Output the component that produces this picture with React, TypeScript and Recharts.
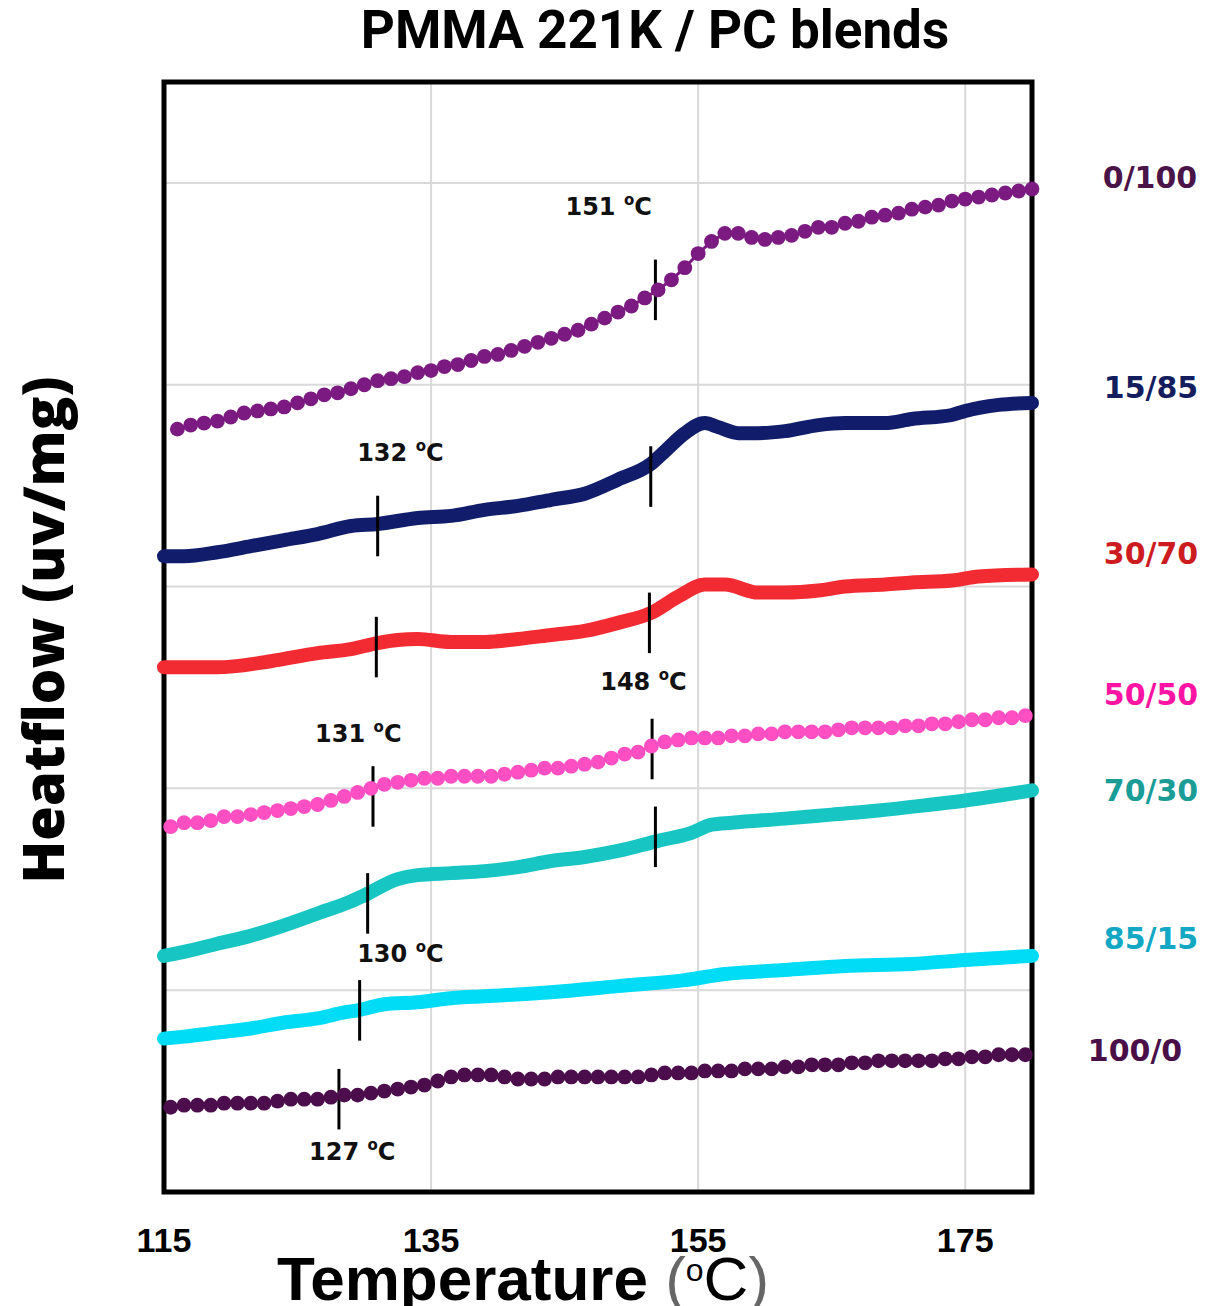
import React from "react";
import { ComposedChart, Line, XAxis, YAxis, CartesianGrid, ReferenceArea, ReferenceLine, ReferenceDot } from "recharts";

// temperature grids of the dotted scans, one reading per degree
const degreeGrid = (start: number, count: number) => Array.from({ length: count }, (_, i) => start + i);
const wholeDegrees = degreeGrid(116, 65);
const halfDegrees = degreeGrid(115.5, 65);

const xTicks = [115, 135, 155, 175];
const yGrid = [1, 2, 3, 4, 5];

// 0/100 (pure PC)
const flow0_100 = [
  3.78, 3.80, 3.81, 3.82, 3.84, 3.86, 3.87, 3.88, 3.89, 3.91,
  3.93, 3.95, 3.96, 3.98, 4.00, 4.02, 4.03, 4.04, 4.06, 4.07,
  4.09, 4.10, 4.12, 4.14, 4.15, 4.17, 4.19, 4.21, 4.23, 4.25,
  4.27, 4.30, 4.33, 4.36, 4.39, 4.43, 4.47, 4.52, 4.58, 4.65,
  4.71, 4.75, 4.75, 4.73, 4.72, 4.73, 4.74, 4.76, 4.78, 4.78,
  4.80, 4.81, 4.83, 4.84, 4.85, 4.87, 4.88, 4.89, 4.91, 4.92,
  4.93, 4.94, 4.95, 4.96, 4.97,
];

// 50/50
const flow50_50 = [
  1.81, 1.83, 1.83, 1.84, 1.86, 1.86, 1.87, 1.88, 1.89, 1.90,
  1.91, 1.92, 1.94, 1.96, 1.98, 2.00, 2.02, 2.03, 2.04, 2.05,
  2.05, 2.06, 2.06, 2.06, 2.06, 2.07, 2.08, 2.09, 2.10, 2.10,
  2.11, 2.12, 2.13, 2.15, 2.17, 2.18, 2.21, 2.23, 2.24, 2.25,
  2.25, 2.25, 2.26, 2.26, 2.27, 2.27, 2.28, 2.28, 2.28, 2.28,
  2.29, 2.30, 2.30, 2.30, 2.30, 2.31, 2.31, 2.32, 2.32, 2.33,
  2.34, 2.34, 2.35, 2.35, 2.36,
];

// 100/0 (pure PMMA)
const flow100_0 = [
  0.42, 0.43, 0.43, 0.43, 0.44, 0.44, 0.44, 0.44, 0.45, 0.46,
  0.46, 0.46, 0.47, 0.48, 0.48, 0.49, 0.50, 0.51, 0.52, 0.53,
  0.55, 0.57, 0.58, 0.58, 0.58, 0.57, 0.56, 0.56, 0.56, 0.57,
  0.57, 0.57, 0.57, 0.57, 0.57, 0.57, 0.58, 0.59, 0.59, 0.59,
  0.60, 0.60, 0.60, 0.61, 0.61, 0.61, 0.62, 0.62, 0.63, 0.63,
  0.63, 0.64, 0.64, 0.65, 0.65, 0.65, 0.65, 0.65, 0.66, 0.66,
  0.67, 0.67, 0.68, 0.68, 0.68,
];

// dense scans
const temps15_85 = [115, 116.5, 119, 121.5, 124, 126.5, 129, 131, 134, 136.5, 139, 141.5, 144, 146.5, 149, 151.5, 152.5, 154, 155.5, 156.5, 158, 159.5, 161.5, 164, 166, 169, 171, 174, 175, 177.5, 180];
const flow15_85 = [3.15, 3.15, 3.17, 3.20, 3.23, 3.26, 3.30, 3.31, 3.34, 3.35, 3.38, 3.40, 3.43, 3.46, 3.53, 3.61, 3.67, 3.76, 3.81, 3.79, 3.76, 3.76, 3.77, 3.80, 3.81, 3.81, 3.83, 3.85, 3.87, 3.90, 3.91];

const temps30_70 = [115, 119, 123, 126.5, 129, 131, 132.5, 134, 136.5, 139, 141.5, 144, 146.5, 149, 151.5, 153.5, 155.5, 157, 159.5, 161.5, 164, 166, 169, 171, 174, 176, 180];
const flow30_70 = [2.60, 2.60, 2.63, 2.67, 2.69, 2.72, 2.735, 2.74, 2.725, 2.725, 2.74, 2.76, 2.78, 2.82, 2.87, 2.95, 3.01, 3.01, 2.97, 2.97, 2.98, 3.00, 3.01, 3.02, 3.03, 3.05, 3.06];

const temps70_30 = [115, 116.5, 119, 121.5, 123.5, 126.5, 129, 130, 132.5, 134, 136.5, 139, 141.5, 144, 146.5, 149, 152, 154.5, 156, 157.5, 161.5, 165, 168.5, 172.5, 175, 180];
const flow70_30 = [1.17, 1.19, 1.23, 1.27, 1.31, 1.38, 1.44, 1.47, 1.55, 1.57, 1.58, 1.59, 1.61, 1.64, 1.66, 1.69, 1.74, 1.78, 1.82, 1.83, 1.85, 1.87, 1.89, 1.92, 1.94, 1.99];

const temps85_15 = [115, 116.5, 119, 121.5, 124, 126.5, 128.5, 129.5, 131.5, 134, 136.5, 139, 144, 149, 154, 157, 161.5, 166, 171, 175, 180];
const flow85_15 = [0.76, 0.77, 0.79, 0.81, 0.84, 0.86, 0.89, 0.90, 0.93, 0.94, 0.96, 0.97, 0.99, 1.02, 1.05, 1.08, 1.10, 1.12, 1.13, 1.15, 1.17];

// glass transition ticks drawn on the curves
const tgTemps = [151.8, 131.0, 151.45, 130.9, 151.35, 130.65, 151.55, 130.25, 151.8, 129.65, 128.1];
const tgFlows = [4.47, 3.30, 3.545, 2.70, 2.82, 1.96, 2.195, 1.43, 1.76, 0.90, 0.46];

// Tg annotations
const noteValues = ["151", "132", "148", "131", "130", "127"];
const noteTemps = [148.3, 132.7, 150.9, 129.55, 132.7, 129.1];
const noteFlows = [4.88, 3.66, 2.525, 2.27, 1.18, 0.2];

const blendNames = ["0/100", "15/85", "30/70", "50/50", "70/30", "85/15", "100/0"];
const lineColors = ["#7b1a80", "#111d6b", "#f22a31", "#ff4fc3", "#17c6c2", "#00dbf6", "#4b0d4b"];
const nameColors = ["#4b1449", "#141e5e", "#cc1c1f", "#ff14a4", "#1a9c97", "#12a8c3", "#4a0f48"];
const namePos = [
  [1150, 177], [1151, 387], [1151, 553], [1151, 694], [1151, 790], [1151, 938], [1135, 1050],
];

const toPoints = (temps: number[], flows: number[]) => temps.map((t, i) => ({ t, v: flows[i] }));

const dotted = [
  { name: "0/100", data: toPoints(wholeDegrees, flow0_100), color: lineColors[0] },
  { name: "50/50", data: toPoints(halfDegrees, flow50_50), color: lineColors[3] },
  { name: "100/0", data: toPoints(halfDegrees, flow100_0), color: lineColors[6] },
];

const dense = [
  { name: "15/85", data: toPoints(temps15_85, flow15_85), color: lineColors[1] },
  { name: "30/70", data: toPoints(temps30_70, flow30_70), color: lineColors[2] },
  { name: "70/30", data: toPoints(temps70_30, flow70_30), color: lineColors[4] },
  { name: "85/15", data: toPoints(temps85_15, flow85_15), color: lineColors[5] },
];

const TG_HALF = 0.15;
const DOT_R = 7.4;

function TempTick({ x, y, payload }: any) {
  return (
    <text x={x} y={y + 48} textAnchor="middle" dominantBaseline="central"
      fontFamily="'Liberation Sans', Arial, sans-serif" fontWeight={700} fontSize={34} fill="#000">
      {payload.value}
    </text>
  );
}

function bigDot(color: string) {
  return (p: any) => <circle key={p.key ?? `${p.cx}-${p.cy}`} cx={p.cx} cy={p.cy} r={DOT_R} fill={color} />;
}

function noteShape(value: string) {
  return (p: any) => (
    <text x={p.cx} y={p.cy} textAnchor="middle" dominantBaseline="central"
      fontFamily="'DejaVu Sans', sans-serif" fontWeight={700} fontSize={24} fill="#111">
      <tspan>{value} </tspan>
      <tspan fontSize={15} dy={-7}>o</tspan>
      <tspan dy={7}>C</tspan>
    </text>
  );
}

export default function App() {
  return (
    <div style={{ position: "absolute", left: 0, top: 0, width: 1222, height: 1306, background: "#fff" }}>
      <ComposedChart width={1222} height={1306} margin={{ top: 82, right: 190, bottom: 54, left: 164 }}>
        <CartesianGrid stroke="#d9d9d9" strokeWidth={2} />
        <XAxis dataKey="t" type="number" domain={[115, 180]} ticks={xTicks} height={60}
          axisLine={false} tickLine={false} tickSize={0} tickMargin={0} tick={<TempTick />} />
        <YAxis hide type="number" domain={[0, 5.5]} ticks={yGrid} />
        <ReferenceArea x1={115} x2={180} y1={0} y2={5.5} fill="none" fillOpacity={0} stroke="#000" strokeWidth={5} />
        {dense.map((s) => (
          <Line key={s.name} data={s.data} dataKey="v" name={s.name} type="monotone" stroke={s.color}
            strokeWidth={14} strokeLinecap="round" strokeLinejoin="round" dot={false} activeDot={false}
            isAnimationActive={false} />
        ))}
        {dotted.map((s) => (
          <Line key={s.name} data={s.data} dataKey="v" name={s.name} type="linear" stroke={s.color}
            strokeWidth={3} dot={bigDot(s.color)} activeDot={false} isAnimationActive={false} />
        ))}
        {tgTemps.map((t, i) => (
          <ReferenceLine key={"tg" + i} segment={[{ x: t, y: tgFlows[i] - TG_HALF }, { x: t, y: tgFlows[i] + TG_HALF }]}
            stroke="#000" strokeWidth={3} />
        ))}
        {noteValues.map((v, i) => (
          <ReferenceDot key={"note" + i} x={noteTemps[i]} y={noteFlows[i]} r={1} shape={noteShape(v)} />
        ))}
      </ComposedChart>
      <svg width={1222} height={1306} style={{ position: "absolute", left: 0, top: 0, pointerEvents: "none" }}>
        <text x={655} y={48} textAnchor="middle" fontFamily="Roboto, sans-serif" fontWeight={700} fontSize={53} fill="#000">
          PMMA 221K / PC blends
        </text>
        <text transform="translate(64,630) rotate(-90)" textAnchor="middle" fontFamily="'Open Sans', sans-serif"
          fontWeight={800} fontSize={56} fill="#000">
          Heatflow (uv/mg)
        </text>
        <text x={523} y={1300} textAnchor="middle" fontFamily="'Liberation Sans', Arial, sans-serif" fontSize={62} fill="#000">
          <tspan fontWeight={700}>Temperature</tspan>
          <tspan fontWeight={400} fill="#666"> (</tspan>
          <tspan fontWeight={400} fontSize={32} dy={-19}>o</tspan>
          <tspan fontWeight={400} dy={19}>C</tspan>
          <tspan fontWeight={400} fill="#666">)</tspan>
        </text>
        {blendNames.map((n, i) => (
          <text key={n} x={namePos[i][0]} y={namePos[i][1]} textAnchor="middle" dominantBaseline="central"
            fontFamily="'DejaVu Sans', sans-serif" fontWeight={700} fontSize={30} fill={nameColors[i]}>
            {n}
          </text>
        ))}
      </svg>
    </div>
  );
}
